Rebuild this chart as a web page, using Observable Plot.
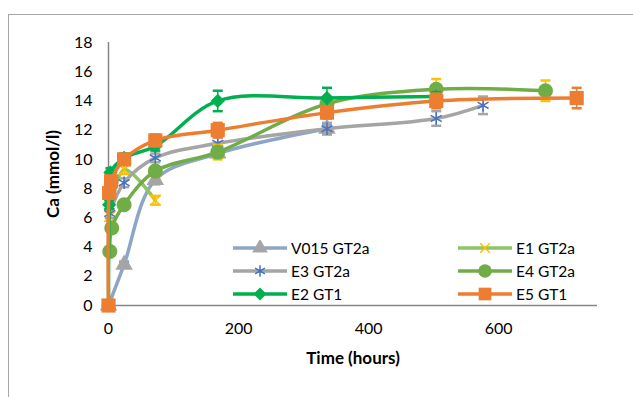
<!DOCTYPE html>
<html>
<head>
<meta charset="utf-8">
<script src="https://cdn.jsdelivr.net/npm/d3@7"></script>
<script src="https://cdn.jsdelivr.net/npm/@observablehq/plot@0.6"></script>
<style>
  html, body { margin: 0; padding: 0; background: #fff; }
  #wrap { position: relative; width: 633px; height: 397px; overflow: hidden; font-family: Lato, "Open Sans", sans-serif; }
  #frame { position: absolute; left: 8px; top: 14px; right: -2px; bottom: -2px; border: 1px solid #a6a6a6; }
  #legend { position: absolute; left: 232px; top: 237px; display: grid; grid-template-columns: 225px 160px; row-gap: 1px; }
  .item { display: flex; align-items: center; height: 22px; font-size: 15.5px; color: #000; }
  .item svg { margin-right: 3px; }
</style>
</head>
<body>
<div id="wrap"><div id="frame"></div><div id="chart"></div><div id="legend"></div></div>
<script>
// ---- data (time in hours, Ca in mmol/l) ----
const seriesNames = ["V015 GT2a", "E1 GT2a", "E3 GT2a", "E4 GT2a", "E2 GT1", "E5 GT1"];

const v015Time = [0, 24, 72, 168, 336];
const v015Ca   = [0, 2.8, 8.6, 10.4, 12.1];
const v015Err  = [0, 0.2, 0.3, 0.3, 0.3];

const e1Time = [2, 24, 72];
const e1Ca   = [6.1, 9.3, 7.2];
const e1Err  = [0.3, 0.3, 0.3];

const e3Time = [2, 24, 72, 168, 336, 504, 576];
const e3Ca   = [6.3, 8.4, 10.1, 11.1, 12.1, 12.8, 13.7];
const e3Err  = [0.3, 0.3, 0.3, 0.4, 0.4, 0.5, 0.6];

const e4Time = [2, 5, 24, 72, 168, 336, 504, 672];
const e4Ca   = [3.7, 5.3, 6.9, 9.2, 10.5, 13.8, 14.8, 14.7];
const e4Err  = [0.2, 0.2, 0.2, 0.3, 0.5, 0.4, 0.7, 0.7];

const e2Time = [0, 1, 3, 24, 72, 168, 336, 504];
const e2Ca   = [0, 6.9, 9.1, 10.1, 10.9, 14.0, 14.2, 14.3];
const e2Err  = [0, 0.3, 0.3, 0.3, 0.3, 0.7, 0.7, 0.3];

const e5Time = [0, 1, 4, 24, 72, 168, 336, 504, 720];
const e5Ca   = [0, 7.7, 8.5, 10.0, 11.3, 12.0, 13.2, 14.0, 14.2];
const e5Err  = [0, 0.3, 0.3, 0.3, 0.4, 0.5, 0.4, 0.5, 0.7];

const xTicks = [0, 200, 400, 600];
const yTicks = [0, 2, 4, 6, 8, 10, 12, 14, 16, 18];

// ---- styles ----
const styles = [
  {line: "#8EA5C8", symbol: "triangle", fill: "#A5A5A5", stroke: "none", r: 6.5, err: "#5B9BD5"},
  {line: "#8CC665", symbol: "times", fill: "none", stroke: "#FFC000", r: 5, err: "#FFC000"},
  {line: "#A5A5A5", symbol: "asterisk", fill: "none", stroke: "#4472C4", r: 6, err: "#A5A5A5"},
  {line: "#70AD47", symbol: "circle", fill: "#70AD47", stroke: "none", r: 7.5, err: "#FFC000"},
  {line: "#00B050", symbol: "diamond2", fill: "#00B050", stroke: "#00B050", r: 5.5, err: "#00B050"},
  {line: "#ED7D31", symbol: "square", fill: "#ED7D31", stroke: "none", r: 8, err: "#ED7D31"}
];

const raw = [
  [v015Time, v015Ca, v015Err],
  [e1Time, e1Ca, e1Err],
  [e3Time, e3Ca, e3Err],
  [e4Time, e4Ca, e4Err],
  [e2Time, e2Ca, e2Err],
  [e5Time, e5Ca, e5Err]
];

const capSymbol = {
  draw(context, size) {
    const w = 5;
    context.moveTo(-w, 0);
    context.lineTo(w, 0);
  }
};

const marks = [];
raw.forEach(([ts, cs, es], i) => {
  const st = styles[i];
  const data = ts.map((t, j) => ({t, c: cs[j], e: es[j]}));
  marks.push(Plot.line(data, {x: "t", y: "c", stroke: st.line, strokeWidth: 3.5, curve: "catmull-rom"}));
  const withErr = data.filter(d => d.e > 0);
  marks.push(Plot.ruleX(withErr, {x: "t", y1: d => d.c - d.e, y2: d => d.c + d.e, stroke: st.err, strokeWidth: 1.5}));
  marks.push(Plot.dot(withErr, {x: "t", y: d => d.c + d.e, symbol: capSymbol, stroke: st.err, strokeWidth: 2.5, r: 3}));
  marks.push(Plot.dot(withErr, {x: "t", y: d => d.c - d.e, symbol: capSymbol, stroke: st.err, strokeWidth: 2.5, r: 3}));
  marks.push(Plot.dot(data, {x: "t", y: "c", symbol: st.symbol, fill: st.fill, stroke: st.stroke, strokeWidth: 1.5, r: st.r}));
});

const chart = Plot.plot({
  width: 633,
  height: 397,
  marginLeft: 108,
  marginRight: 36,
  marginTop: 42,
  marginBottom: 92,
  style: {fontFamily: "Lato, 'Open Sans', sans-serif", fontSize: "16px", color: "#000", background: "transparent", overflow: "visible"},
  x: {domain: [0, 752]},
  y: {domain: [0, 18]},
  marks: [
    Plot.axisX({ticks: xTicks, tickSize: 0, tickPadding: 17, fontSize: 16, label: "Time (hours)", labelAnchor: "center", labelArrow: "none", labelOffset: 58}),
    Plot.axisY({ticks: yTicks, tickSize: 0, tickPadding: 16, fontSize: 16, label: "Ca (mmol/l)", labelAnchor: "center", labelArrow: "none", labelOffset: 62}),
    Plot.ruleX([0], {stroke: "#868686", strokeWidth: 1.5}),
    Plot.ruleY([0], {stroke: "#868686", strokeWidth: 1.5}),
    ...marks
  ]
});
document.getElementById("chart").appendChild(chart);

// bold axis titles
chart.querySelectorAll("[aria-label='x-axis label'] text, [aria-label='y-axis label'] text").forEach(t => {
  t.style.fontWeight = "bold";
  t.style.fontSize = "17px";
});

// ---- legend ----
const legend = document.getElementById("legend");
const symMap = {triangle: d3.symbolTriangle, times: d3.symbolTimes, asterisk: d3.symbolAsterisk, circle: d3.symbolCircle, diamond2: d3.symbolDiamond2, square: d3.symbolSquare};
styles.forEach((st, i) => {
  const item = document.createElement("div");
  item.className = "item";
  const svg = d3.create("svg").attr("width", 56).attr("height", 16);
  svg.append("line").attr("x1", 1).attr("x2", 55).attr("y1", 8).attr("y2", 8)
    .attr("stroke", st.line).attr("stroke-width", 3.5);
  const size = Math.PI * st.r * st.r * 0.8;
  svg.append("path").attr("transform", "translate(28,8)")
    .attr("d", d3.symbol(symMap[st.symbol], size)())
    .attr("fill", st.fill).attr("stroke", st.stroke).attr("stroke-width", 1.5);
  item.appendChild(svg.node());
  const span = document.createElement("span");
  span.textContent = seriesNames[i];
  item.appendChild(span);
  legend.appendChild(item);
});
</script>
</body>
</html>
